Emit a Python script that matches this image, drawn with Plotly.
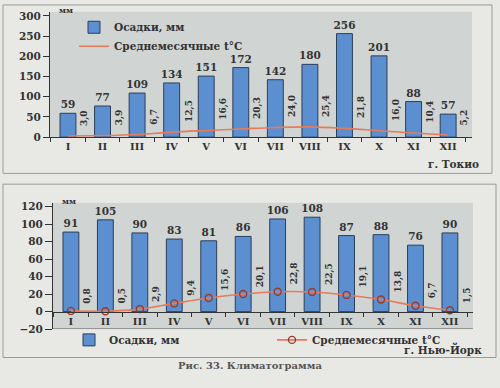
import plotly.graph_objects as go

months = ["I", "II", "III", "IV", "V", "VI", "VII", "VIII", "IX", "X", "XI", "XII"]

tokyo_precip = [59, 77, 109, 134, 151, 172, 142, 180, 256, 201, 88, 57]
tokyo_temp = [3.0, 3.9, 6.7, 12.5, 16.6, 20.3, 24.0, 25.4, 21.8, 16.0, 10.4, 5.2]

ny_precip = [91, 105, 90, 83, 81, 86, 106, 108, 87, 88, 76, 90]
ny_temp = [0.8, 0.5, 2.9, 9.4, 15.6, 20.1, 22.8, 22.5, 19.1, 13.8, 6.7, 1.5]

W, H = 500, 388
FONT = "DejaVu Serif"
TXT = "#333333"
BAR = "#5b8fd0"
BAR_EDGE = "#2c3e58"
LINE = "#e67a5c"
MARK = "#9a3a2a"
PLOT_BG = "#d0d5d3"
PAPER_BG = "#e8e9e5"


def px_x(x):
    return x / W


def px_y(y):
    return 1 - y / H


def fmt(v):
    return f"{v:.1f}".replace(".", ",")


fig = go.Figure()

# ---------------- Tokyo ----------------
fig.add_trace(go.Bar(
    x=months, y=tokyo_precip, width=0.46,
    marker=dict(color=BAR, line=dict(color=BAR_EDGE, width=1)),
    text=[str(v) for v in tokyo_precip], textposition="outside",
    textfont=dict(family=FONT, size=10.5, color=TXT, weight="bold"),
    cliponaxis=False, constraintext="none",
    name="Осадки, мм", legend="legend", xaxis="x", yaxis="y",
))
fig.add_trace(go.Scatter(
    x=months, y=tokyo_temp, mode="lines",
    line=dict(color=LINE, width=1.6, shape="spline"),
    name="Среднемесячные t°C", legend="legend", xaxis="x", yaxis="y",
))

# ---------------- New York ----------------
fig.add_trace(go.Bar(
    x=months, y=ny_precip, width=0.46,
    marker=dict(color=BAR, line=dict(color=BAR_EDGE, width=1)),
    text=[str(v) for v in ny_precip], textposition="outside",
    textfont=dict(family=FONT, size=10.5, color=TXT, weight="bold"),
    cliponaxis=False, constraintext="none",
    name="Осадки, мм", legend="legend2", xaxis="x2", yaxis="y2",
))
fig.add_trace(go.Scatter(
    x=months, y=ny_temp, mode="lines+markers",
    line=dict(color=LINE, width=1.6, shape="spline"),
    marker=dict(symbol="circle-open", size=7, color=MARK, line=dict(width=1.4)),
    name="Среднемесячные t°C", legend="legend3", xaxis="x2", yaxis="y2",
))

annotations = []
for i, t in enumerate(tokyo_temp):
    annotations.append(dict(
        x=i + 0.5, y=t + 20, xref="x", yref="y", text=fmt(t), textangle=-90,
        showarrow=False, xanchor="center", yanchor="bottom",
        font=dict(family=FONT, size=9, color=TXT, weight="bold"),
    ))
for i, t in enumerate(ny_temp):
    annotations.append(dict(
        x=i + 0.5, y=t + 6, xref="x2", yref="y2", text=fmt(t), textangle=-90,
        showarrow=False, xanchor="center", yanchor="bottom",
        font=dict(family=FONT, size=9, color=TXT, weight="bold"),
    ))

small = dict(family=FONT, size=8, color=TXT, weight="bold")
lab = dict(family=FONT, size=10.5, color=TXT, weight="bold")
annotations += [
    dict(x=px_x(57), y=px_y(8), xref="paper", yref="paper", text="мм",
         showarrow=False, yanchor="middle", font=small),
    dict(x=px_x(60), y=px_y(203), xref="paper", yref="paper", text="мм",
         showarrow=False, yanchor="middle", font=small),
    dict(x=px_x(481), y=px_y(165), xref="paper", yref="paper", text="г. Токио",
         showarrow=False, xanchor="right", yanchor="middle", font=lab),
    dict(x=px_x(484), y=px_y(354), xref="paper", yref="paper", text="г. Нью-Йорк",
         showarrow=False, xanchor="right", yanchor="middle", font=lab),
    dict(x=0.5, y=px_y(371), xref="paper", yref="paper", text="Рис. 33. Климатограмма",
         showarrow=False, yanchor="middle",
         font=dict(family=FONT, size=10, color="#555555", weight="bold")),
]

top_dom = [px_y(138), px_y(10)]
bot_dom = [px_y(334), px_y(205)]
bot_range = [-20, 124.5]
zero_pos = bot_dom[0] + (0 - bot_range[0]) / (bot_range[1] - bot_range[0]) * (bot_dom[1] - bot_dom[0])

axis_common = dict(showgrid=False, zeroline=False, showline=True, linecolor=TXT,
                   linewidth=1, ticks="outside", tickcolor=TXT, tickwidth=1)

shapes = [
    dict(type="rect", xref="paper", yref="paper", x0=px_x(3), x1=px_x(492),
         y0=px_y(175), y1=px_y(3), line=dict(color="#9a9a9a", width=1)),
    dict(type="rect", xref="paper", yref="paper", x0=px_x(3), x1=px_x(496),
         y0=px_y(363), y1=px_y(186), line=dict(color="#9a9a9a", width=1)),
    dict(type="line", xref="x2 domain", x0=0, x1=1, yref="y2", y0=-20, y1=-20,
         line=dict(color=TXT, width=1)),
]

leg_font = dict(family=FONT, size=10.5, color=TXT, weight="bold")

fig.update_layout(
    width=W, height=H, autosize=False,
    margin=dict(l=0, r=0, t=0, b=0),
    paper_bgcolor=PAPER_BG, plot_bgcolor=PLOT_BG,
    showlegend=True, barmode="group",
    xaxis=dict(**axis_common, type="category", range=[-0.52, 11.69],
               domain=[px_x(50), px_x(472)], anchor="y", tickson="boundaries",
               ticklen=4, tickfont=dict(family=FONT, size=10, color=TXT, weight="bold")),
    yaxis=dict(**axis_common, range=[0, 310], domain=top_dom, anchor="x",
               tickvals=[0, 50, 100, 150, 200, 250, 300], ticklen=6,
               tickfont=dict(family=FONT, size=10.5, color=TXT, weight="bold")),
    xaxis2=dict(**axis_common, type="category", range=[-0.52, 11.67],
                domain=[px_x(53), px_x(473)], anchor="free", position=zero_pos,
                tickson="boundaries", ticklen=4,
                tickfont=dict(family=FONT, size=10, color=TXT, weight="bold")),
    yaxis2=dict(**axis_common, range=bot_range, domain=bot_dom, anchor="x2",
                tickvals=[-20, 0, 20, 40, 60, 80, 100, 120], ticklen=7,
                tickfont=dict(family=FONT, size=10.5, color=TXT, weight="bold")),
    legend=dict(x=px_x(74), y=px_y(11), xanchor="left", yanchor="top",
                bgcolor="rgba(0,0,0,0)", font=leg_font, tracegroupgap=0),
    legend2=dict(x=px_x(69), y=px_y(345), xanchor="left", yanchor="middle",
                 bgcolor="rgba(0,0,0,0)", font=leg_font, orientation="h"),
    legend3=dict(x=px_x(272), y=px_y(345), xanchor="left", yanchor="middle",
                 bgcolor="rgba(0,0,0,0)", font=leg_font, orientation="h"),
    annotations=annotations, shapes=shapes,
)

fig.write_html(
    "out.html",
    config={"displayModeBar": False},
    post_script="document.body.style.margin='0';document.body.style.overflow='hidden';",
)
